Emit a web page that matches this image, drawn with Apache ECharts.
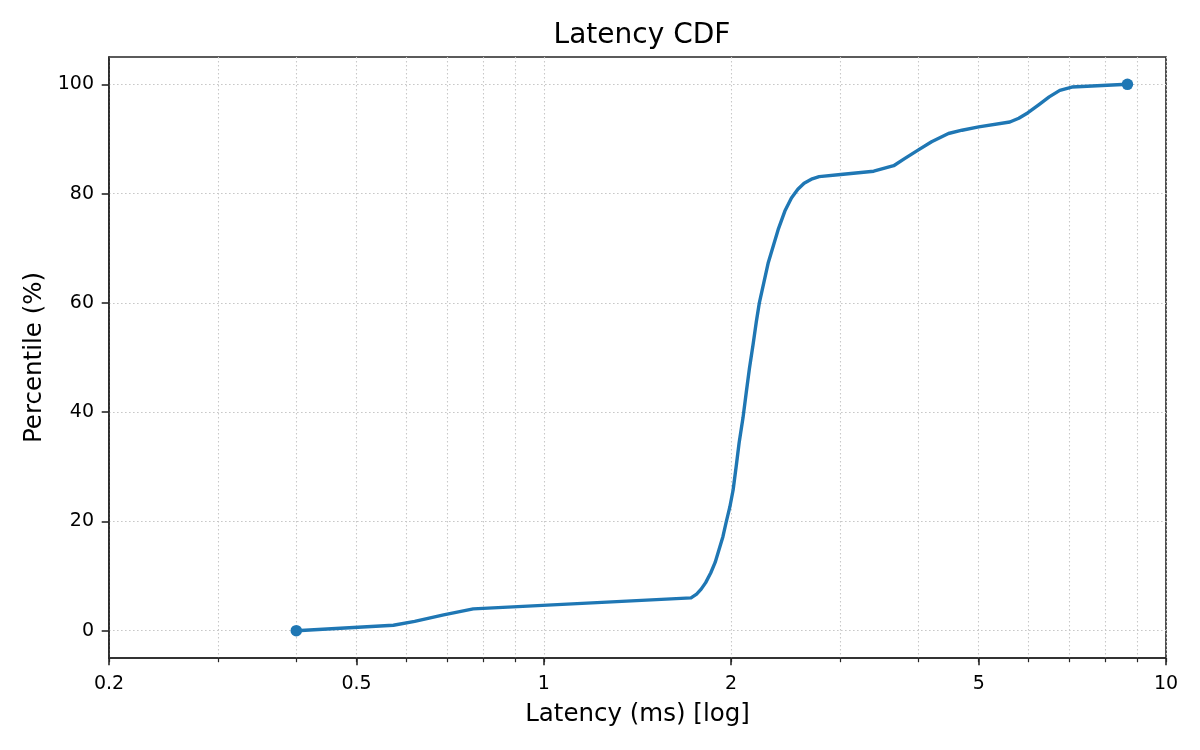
<!DOCTYPE html>
<html>
<head>
<meta charset="utf-8">
<title>Latency CDF</title>
<script src="https://cdn.jsdelivr.net/npm/echarts@6/dist/echarts.min.js"></script>
<style>
  html, body { margin: 0; padding: 0; background: #fff; }
  #chart { width: 1200px; height: 750px; }
</style>
</head>
<body>
<div id="chart"></div>
<script>
const chart = echarts.init(document.getElementById('chart'));

// latency samples (ms), with their percentiles
const latencyMs = [
  0.40, 0.573, 0.62, 0.69, 0.77, 1.724, 1.76, 1.79, 1.82, 1.855, 1.885, 1.912,
  1.94, 1.963, 1.99, 2.015, 2.04, 2.06, 2.09, 2.115, 2.14, 2.17, 2.195, 2.22,
  2.26, 2.295, 2.34, 2.38, 2.44, 2.50, 2.56, 2.62, 2.70, 2.77, 3.0, 3.39, 3.65,
  3.8, 4.0, 4.2, 4.47, 4.7, 5.0, 5.61, 5.8, 6.0, 6.25, 6.49, 6.75, 7.06, 8.67
];
const percentile = [
  0, 1.0, 1.7, 2.9, 4.0, 6.0, 6.7, 7.6, 8.8, 10.6, 12.5, 14.8,
  17.2, 19.8, 22.6, 25.8, 30.5, 34.4, 39, 43.6, 48, 52.5, 56.5, 60,
  64, 67.4, 70.6, 73.4, 76.8, 79.2, 80.8, 81.9, 82.7, 83.1, 83.5, 84.1, 85.1,
  86.4, 88.0, 89.5, 91.0, 91.6, 92.2, 93.1, 93.8, 94.8, 96.3, 97.7, 98.9, 99.5, 100
];

const xMajor = [0.2, 0.5, 1, 2, 5, 10];
const xAll = [0.2, 0.3, 0.4, 0.5, 0.6, 0.7, 0.8, 0.9, 1, 2, 3, 4, 5, 6, 7, 8, 9, 10];
const yTicks = [0, 20, 40, 60, 80, 100];

const FONT = 'DejaVu Sans';
const BLUE = '#1f77b4';
const INK = '#262626';

const points = latencyMs.map((x, i) => {
  const isEnd = i === 0 || i === latencyMs.length - 1;
  return { value: [x, percentile[i]], symbol: isEnd ? 'circle' : 'none' };
});

const gridLine = { show: true, lineStyle: { color: '#c8c8c8', width: 1.1, type: [1.6, 2.4] } };

chart.setOption({
  animation: false,
  backgroundColor: '#ffffff',
  title: {
    text: 'Latency CDF',
    left: 637,
    top: 17,
    textAlign: 'center',
    textStyle: { fontFamily: FONT, fontSize: 28, fontWeight: 'normal', color: '#000' }
  },
  grid: {
    left: 109, right: 34, top: 57, bottom: 92,
    show: true, borderColor: INK, borderWidth: 1.6, backgroundColor: 'transparent',
    outerBoundsMode: 'none'
  },
  xAxis: [
    {
      type: 'log',
      logBase: 10,
      min: 0.2,
      max: 10,
      position: 'bottom',
      name: 'Latency (ms) [log]',
      nameLocation: 'middle',
      nameGap: 44,
      nameTextStyle: { fontFamily: FONT, fontSize: 24.5, color: '#000' },
      axisLine: { show: true, onZero: false, lineStyle: { color: INK, width: 1.6 } },
      axisTick: { show: true, customValues: xAll, length: 4.2, lineStyle: { color: INK, width: 1.2 } },
      axisLabel: {
        customValues: xMajor,
        margin: 17,
        fontFamily: FONT, fontSize: 19, color: '#000',
        formatter: (v) => String(v)
      },
      splitLine: gridLine,
      minorTick: { show: false }
    },
    {
      type: 'log',
      logBase: 10,
      min: 0.2,
      max: 10,
      position: 'bottom',
      axisLine: { show: false, onZero: false },
      axisTick: { show: true, customValues: xMajor, length: 7.3, lineStyle: { color: INK, width: 1.6 } },
      axisLabel: { show: false },
      splitLine: { show: false }
    }
  ],
  yAxis: {
    type: 'value',
    min: -5,
    max: 105,
    name: 'Percentile (%)',
    nameLocation: 'middle',
    nameGap: 62,
    nameTextStyle: { fontFamily: FONT, fontSize: 24.5, color: '#000' },
    axisLine: { show: true, onZero: false, lineStyle: { color: INK, width: 1.6 } },
    axisTick: { show: true, customValues: yTicks, length: 7.3, lineStyle: { color: INK, width: 1.6 } },
    axisLabel: { customValues: yTicks, margin: 15, fontFamily: FONT, fontSize: 19, color: '#000' },
    splitLine: gridLine
  },
  series: [
    {
      type: 'line',
      xAxisIndex: 0,
      data: points,
      symbolSize: 11.5,
      showSymbol: true,
      itemStyle: { color: BLUE },
      lineStyle: { color: BLUE, width: 3.4, join: 'round', cap: 'round' },
      smooth: false
    }
  ]
});
</script>
</body>
</html>
